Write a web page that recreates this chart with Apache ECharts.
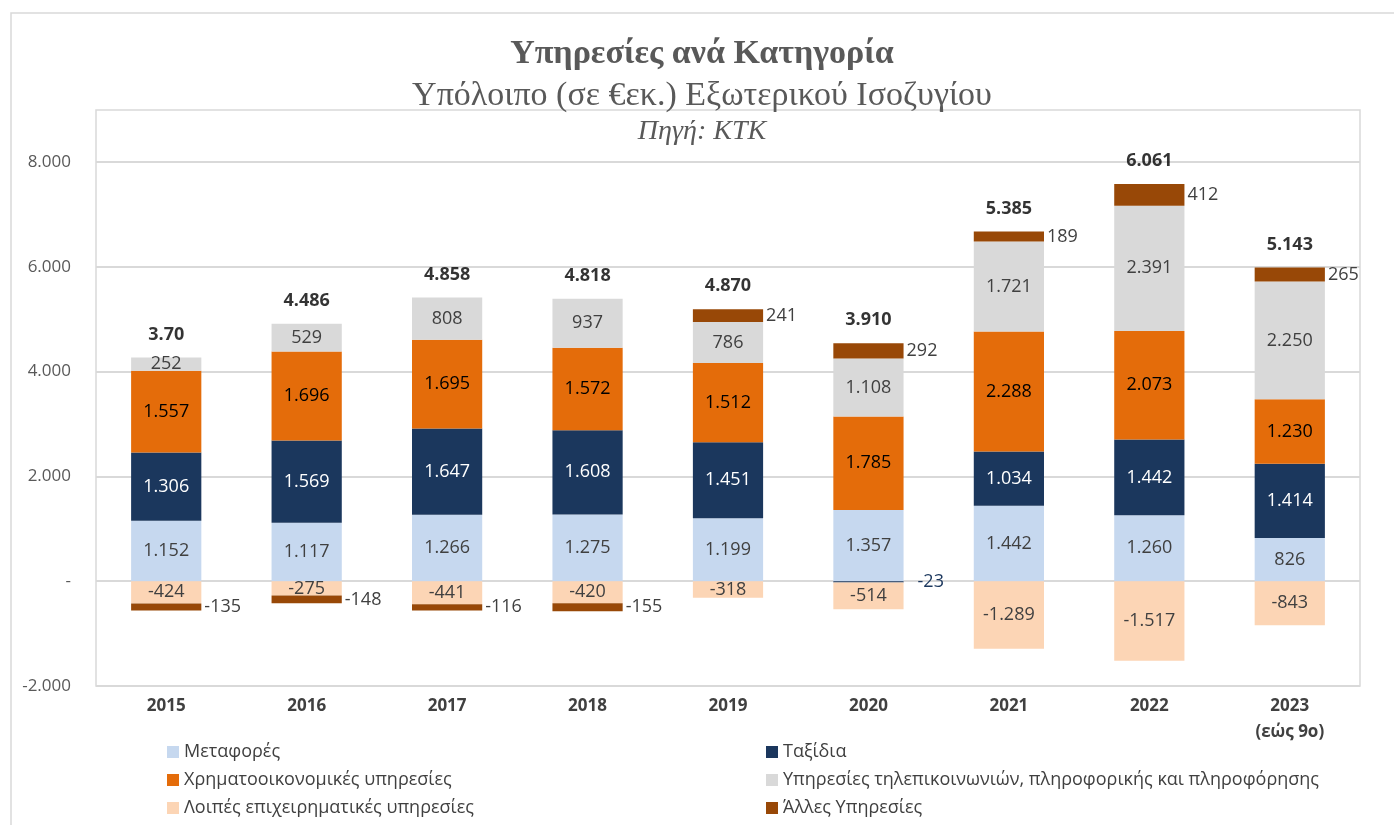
<!DOCTYPE html>
<html>
<head>
<meta charset="UTF-8">
<title>Υπηρεσίες ανά Κατηγορία</title>
<script src="https://cdn.jsdelivr.net/npm/echarts@6/dist/echarts.min.js"></script>
<style>
  html, body { margin: 0; padding: 0; background: #fff; }
  #chart { width: 1394px; height: 825px; }
</style>
</head>
<body>
<div id="chart"></div>
<script>
// --- data ---
var years = ['2015', '2016', '2017', '2018', '2019', '2020', '2021', '2022', '2023\n(εώς 9ο)'];
var seriesNames = [
  'Μεταφορές',
  'Ταξίδια',
  'Χρηματοοικονομικές υπηρεσίες',
  'Υπηρεσίες τηλεπικοινωνιών, πληροφορικής και πληροφόρησης',
  'Λοιπές επιχειρηματικές υπηρεσίες',
  'Άλλες Υπηρεσίες'
];
var transport = [1152, 1117, 1266, 1275, 1199, 1357, 1442, 1260, 826];
var travel    = [1306, 1569, 1647, 1608, 1451, -23, 1034, 1442, 1414];
var financial = [1557, 1696, 1695, 1572, 1512, 1785, 2288, 2073, 1230];
var telecom   = [252, 529, 808, 937, 786, 1108, 1721, 2391, 2250];
var otherBiz  = [-424, -275, -441, -420, -318, -514, -1289, -1517, -843];
var otherSvc  = [-135, -148, -116, -155, 241, 292, 189, 412, 265];
var totalLabels = ['3.70', '4.486', '4.858', '4.818', '4.870', '3.910', '5.385', '6.061', '5.143'];

var colors = ['#C6D8EF', '#1B375D', '#E46C0A', '#D9D9D9', '#FCD5B5', '#984807'];
var labelColors = ['#404040', '#ffffff', '#000000', '#404040', '#404040', '#404040'];

var FONT = '"Open Sans", "Noto Sans", sans-serif';
var SERIF = '"Liberation Serif", "DejaVu Serif", serif';

function fmt(v) {
  return String(v).replace(/\B(?=(\d{3})+(?!\d))/g, '.');
}

var allValues = [transport, travel, financial, telecom, otherBiz, otherSvc];

// top of positive stack, used to anchor the total labels
var tops = years.map(function (y, i) {
  var s = 0;
  allValues.forEach(function (arr) { if (arr[i] > 0) s += arr[i]; });
  return s;
});

var series = allValues.map(function (arr, k) {
  var outside = (k === 5);
  return {
    name: seriesNames[k],
    type: 'bar',
    stack: 'total',
    barCategoryGap: '50%',
    itemStyle: { color: colors[k] },
    label: {
      show: true,
      position: outside ? 'right' : 'inside',
      distance: 3,
      color: labelColors[k],
      fontFamily: FONT,
      fontSize: 18,
      formatter: function (p) { return fmt(p.value); }
    },
    data: arr.map(function (v) {
      if (!outside && Math.abs(v) < 100) {
        return { value: v, label: { position: 'right', color: colors[k], distance: 14 } };
      }
      return v;
    })
  };
});

series.push({
  name: 'totals',
  type: 'scatter',
  symbolSize: 0,
  silent: true,
  z: 10,
  label: {
    show: true,
    position: 'top',
    distance: 14,
    color: '#000',
    fontFamily: FONT,
    fontWeight: 'bold',
    fontSize: 18,
    formatter: function (p) { return totalLabels[p.dataIndex]; }
  },
  data: tops
});

var legendText = { color: '#404040', fontFamily: FONT, fontSize: 18, lineHeight: 18 };

var chart = echarts.init(document.getElementById('chart'), null, { renderer: 'canvas' });
chart.setOption({
  animation: false,
  backgroundColor: '#ffffff',
  title: [
    {
      text: 'Υπηρεσίες ανά Κατηγορία',
      left: 697, top: 32, textAlign: 'center',
      textStyle: { fontFamily: SERIF, fontWeight: 'bold', fontSize: 34, color: '#595959' }
    },
    {
      text: 'Υπόλοιπο (σε €εκ.) Εξωτερικού Ισοζυγίου',
      left: 697, top: 74, textAlign: 'center',
      textStyle: { fontFamily: SERIF, fontWeight: 'normal', fontSize: 34, color: '#595959' }
    },
    {
      text: 'Πηγή: ΚΤΚ',
      left: 697, top: 113, textAlign: 'center',
      textStyle: { fontFamily: SERIF, fontStyle: 'italic', fontWeight: 'normal', fontSize: 28, color: '#595959' }
    }
  ],
  graphic: [
    { type: 'rect', shape: { x: 11, y: 13, width: 1400, height: 830 }, style: { fill: 'none', stroke: '#D9D9D9', lineWidth: 1.5 }, silent: true },
    { type: 'rect', shape: { x: 96, y: 110, width: 1264, height: 576 }, style: { fill: 'none', stroke: '#D9D9D9', lineWidth: 1.5 }, silent: true, z: -1 }
  ],
  legend: [
    {
      data: [seriesNames[0], seriesNames[2], seriesNames[4]],
      orient: 'vertical', left: 162, top: 738, itemGap: 10,
      icon: 'rect', itemWidth: 12, itemHeight: 12,
      selectedMode: false, textStyle: legendText
    },
    {
      data: [seriesNames[1], seriesNames[3], seriesNames[5]],
      orient: 'vertical', left: 761, top: 738, itemGap: 10,
      icon: 'rect', itemWidth: 12, itemHeight: 12,
      selectedMode: false, textStyle: legendText
    }
  ],
  grid: { left: 96, right: 34, top: 162, bottom: 139, containLabel: false },
  xAxis: {
    type: 'category',
    data: years,
    position: 'bottom',
    axisLine: { show: false, onZero: false },
    axisTick: { show: false },
    axisLabel: {
      margin: 7, color: '#404040', fontFamily: FONT, fontWeight: 'bold', fontSize: 17, lineHeight: 26
    }
  },
  yAxis: {
    type: 'value',
    min: -2000, max: 8000, interval: 2000,
    axisLine: { show: false },
    axisTick: { show: false },
    splitLine: { lineStyle: { color: '#D9D9D9', width: 2 } },
    axisLabel: {
      margin: 25, color: '#595959', fontFamily: FONT, fontSize: 17,
      formatter: function (v) { return v === 0 ? '-' : fmt(v); }
    }
  },
  series: series
});
</script>
</body>
</html>
